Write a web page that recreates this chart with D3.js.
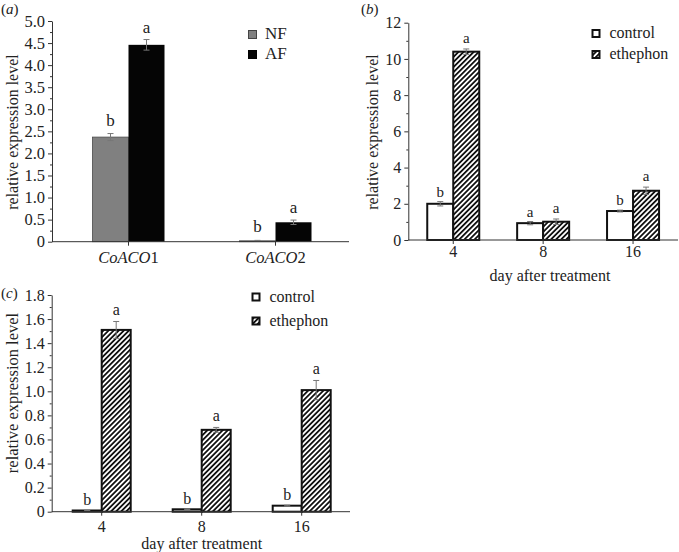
<!DOCTYPE html>
<html><head><meta charset="utf-8">
<script src="https://cdn.jsdelivr.net/npm/d3@7"></script>
<style>
html,body{margin:0;padding:0;background:#fff;}
svg text{font-family:"Liberation Serif",serif;}
</style></head>
<body>
<script>
// ---------- data ----------
const catsA = ["CoACO1", "CoACO2"];
const nfVals = [2.37, 0.02];
const nfErr = [0.08, 0.01];
const afVals = [4.46, 0.44];
const afErr = [0.12, 0.05];
const nfLetters = ["b", "b"];
const afLetters = ["a", "a"];

const daysB = ["4", "8", "16"];
const ctrlB = [2.0, 0.93, 1.6];
const ctrlBErr = [0.12, 0.09, 0.05];
const ethB = [10.4, 1.01, 2.72];
const ethBErr = [0.15, 0.15, 0.2];
const ctrlBLetters = ["b", "a", "b"];
const ethBLetters = ["a", "a", "a"];

const daysC = ["4", "8", "16"];
const ctrlC = [0.01, 0.02, 0.05];
const ctrlCErr = [0.002, 0.003, 0.004];
const ethC = [1.51, 0.68, 1.01];
const ethCErr = [0.07, 0.02, 0.08];
const ctrlCLetters = ["b", "b", "b"];
const ethCLetters = ["a", "a", "a"];

const ticksA = [0, 0.5, 1, 1.5, 2, 2.5, 3, 3.5, 4, 4.5, 5];
const ticksB = [0, 2, 4, 6, 8, 10, 12];
const ticksC = [0, 0.2, 0.4, 0.6, 0.8, 1.0, 1.2, 1.4, 1.6, 1.8];

// ---------- drawing ----------
const FONT = "Liberation Serif";
const W = 679, H = 552;
const svg = d3.select("body").append("svg").attr("width", W).attr("height", H)
  .attr("font-family", FONT);
const defs = svg.append("defs");
const pat = defs.append("pattern").attr("id", "hatch")
  .attr("patternUnits", "userSpaceOnUse").attr("width", 3.6).attr("height", 3.6)
  .attr("patternTransform", "rotate(45)");
pat.append("rect").attr("width", 3.6).attr("height", 3.6).attr("fill", "#fff");
pat.append("rect").attr("width", 1.8).attr("height", 3.6).attr("fill", "#111");

const fmt1 = d => d === 0 ? "0" : d3.format(".1f")(d);
const TXT = "#222";

function txt(g) {
  return g.append("text").attr("font-family", FONT).attr("fill", TXT);
}

function yAxis(g, y, x0, ticks, minor, format, fs) {
  const ax = g.append("g").attr("transform", `translate(${x0},0)`)
    .call(d3.axisLeft(y).tickValues(ticks).tickFormat(format).tickSize(4).tickSizeOuter(0).tickPadding(3));
  ax.attr("font-family", FONT);
  ax.selectAll("text").attr("font-size", fs).attr("fill", TXT).attr("font-family", FONT);
  ax.selectAll("line").attr("stroke", "#333");
  ax.select(".domain").attr("stroke", "#333");
  const mn = g.append("g").attr("transform", `translate(${x0},0)`)
    .call(d3.axisLeft(y).tickValues(minor).tickFormat("").tickSize(2).tickSizeOuter(0));
  mn.select(".domain").remove();
  mn.selectAll("line").attr("stroke", "#333");
}

function xAxis(g, x, y0, xStart, xEnd, pad, fs) {
  const ax = g.append("g").attr("transform", `translate(0,${y0})`)
    .call(d3.axisBottom(x).tickSize(4).tickSizeOuter(0).tickPadding(pad));
  ax.attr("font-family", FONT);
  ax.select(".domain").attr("d", `M${xStart},0H${xEnd}`).attr("stroke", "#333");
  ax.selectAll("line").attr("stroke", "#333");
  ax.selectAll("text").attr("font-size", fs).attr("fill", TXT).attr("font-family", FONT);
  return ax;
}

function errBar(g, cx, y, v, e) {
  const t = y(v + e), b = y(Math.max(0, v - e));
  g.append("path").attr("d", `M${cx},${t}V${b}M${cx - 3},${t}H${cx + 3}M${cx - 3},${b}H${cx + 3}`)
    .attr("stroke", "#777").attr("stroke-width", 1).attr("fill", "none");
}

function letter(g, cx, yy, s, fs) {
  txt(g).attr("x", cx).attr("y", yy).attr("text-anchor", "middle")
    .attr("font-size", fs).text(s);
}

function ylabel(g, x, y, fs) {
  txt(g).attr("transform", `translate(${x},${y}) rotate(-90)`)
    .attr("text-anchor", "middle").attr("font-size", fs)
    .text("relative expression level");
}

function panelLabel(g, x, y, l) {
  const t = txt(g).attr("x", x).attr("y", y).attr("font-size", 15);
  t.append("tspan").text("(");
  t.append("tspan").attr("font-style", "italic").text(l);
  t.append("tspan").text(")");
}

// ===== Panel (a) =====
{
  const g = svg.append("g");
  const y = d3.scaleLinear().domain([0, 5]).range([241.7, 21]);
  const x = d3.scaleBand().domain(catsA).range([55, 349]);
  const bw = 36;
  catsA.forEach((c, i) => {
    const cx = x(c) + x.bandwidth() / 2;
    g.append("rect").attr("x", cx - bw).attr("y", y(nfVals[i])).attr("width", bw)
      .attr("height", y(0) - y(nfVals[i])).attr("fill", "#808080").attr("stroke", "#4a4a4a").attr("stroke-width", 0.8);
    g.append("rect").attr("x", cx).attr("y", y(afVals[i])).attr("width", bw)
      .attr("height", y(0) - y(afVals[i])).attr("fill", "#050505");
    errBar(g, cx - bw / 2, y, nfVals[i], nfErr[i]);
    errBar(g, cx + bw / 2, y, afVals[i], afErr[i]);
    letter(g, cx - bw / 2, y(nfVals[i] + nfErr[i]) - 8, nfLetters[i], 17);
    letter(g, cx + bw / 2, y(afVals[i] + afErr[i]) - 7, afLetters[i], 17);
  });
  yAxis(g, y, 52, ticksA, d3.range(0.25, 5, 0.5), fmt1, 16.5);
  const ax = xAxis(g, x, 241.7, 52, 349, 6, 16.5);
  ax.selectAll(".tick text").text(null).each(function (d) {
    const t = d3.select(this);
    t.append("tspan").attr("font-style", "italic").text(d.slice(0, 5));
    t.append("tspan").text(d.slice(5));
  });
  ylabel(g, 18, 132, 16);
  panelLabel(g, 1, 14, "a");
  // legend
  const lg = g.append("g");
  lg.append("rect").attr("x", 248.5).attr("y", 30.5).attr("width", 8).attr("height", 8)
    .attr("fill", "#808080").attr("stroke", "#444");
  txt(lg).attr("x", 265).attr("y", 38.5).attr("font-size", 17).text("NF");
  lg.append("rect").attr("x", 248.5).attr("y", 50.5).attr("width", 8).attr("height", 8)
    .attr("fill", "#050505").attr("stroke", "#000");
  txt(lg).attr("x", 265).attr("y", 58.5).attr("font-size", 17).text("AF");
}

function hatchPanel(g, x, y, cats, cv, ce, ev, ee, cl, el, bw, gapC, gapE, fs) {
  cats.forEach((c, i) => {
    const cx = x(c) + x.bandwidth() / 2;
    g.append("rect").attr("x", cx - bw).attr("y", y(cv[i])).attr("width", bw)
      .attr("height", y(0) - y(cv[i])).attr("fill", "#fff").attr("stroke", "#111").attr("stroke-width", 2);
    g.append("rect").attr("x", cx).attr("y", y(ev[i])).attr("width", bw)
      .attr("height", y(0) - y(ev[i])).attr("fill", "url(#hatch)").attr("stroke", "#111").attr("stroke-width", 2);
    errBar(g, cx - bw / 2, y, cv[i], ce[i]);
    errBar(g, cx + bw / 2, y, ev[i], ee[i]);
    letter(g, cx - bw / 2, y(cv[i] + ce[i]) - gapC, cl[i], fs);
    letter(g, cx + bw / 2, y(ev[i] + ee[i]) - gapE, el[i], fs);
  });
}

function hatchLegend(g, x, y1, y2, fs) {
  g.append("rect").attr("x", x).attr("y", y1).attr("width", 7).attr("height", 7)
    .attr("fill", "#fff").attr("stroke", "#111").attr("stroke-width", 2);
  txt(g).attr("x", x + 17).attr("y", y1 + 8).attr("font-size", fs).text("control");
  g.append("rect").attr("x", x).attr("y", y2).attr("width", 7).attr("height", 7)
    .attr("fill", "url(#hatch)").attr("stroke", "#111").attr("stroke-width", 2);
  txt(g).attr("x", x + 17).attr("y", y2 + 8).attr("font-size", fs).text("ethephon");
}

// ===== Panel (b) =====
{
  const g = svg.append("g");
  const y = d3.scaleLinear().domain([0, 12]).range([240, 22.7]);
  const x = d3.scaleBand().domain(daysB).range([408.3, 678]);
  hatchPanel(g, x, y, daysB, ctrlB, ctrlBErr, ethB, ethBErr, ctrlBLetters, ethBLetters, 26, 5, 6, 15);
  yAxis(g, y, 408.3, ticksB, d3.range(1, 12, 2), d3.format("d"), 16);
  xAxis(g, x, 240, 408.3, 678, 2, 16);
  txt(g).attr("x", 550).attr("y", 281).attr("text-anchor", "middle")
    .attr("font-size", 16).text("day after treatment");
  ylabel(g, 378, 132, 16);
  panelLabel(g, 361, 14, "b");
  hatchLegend(g, 592.5, 30, 51, 16);
}

// ===== Panel (c) =====
{
  const g = svg.append("g");
  const y = d3.scaleLinear().domain([0, 1.8]).range([511.7, 295]);
  const x = d3.scaleBand().domain(daysC).range([51.7, 351.7]);
  hatchPanel(g, x, y, daysC, ctrlC, ctrlCErr, ethC, ethCErr, ctrlCLetters, ethCLetters, 29, 5, 6, 16);
  yAxis(g, y, 51.7, ticksC, d3.range(0.1, 1.8, 0.2), fmt1, 16);
  xAxis(g, x, 511.7, 51.7, 350, 5, 16);
  txt(g).attr("x", 201.7).attr("y", 549).attr("text-anchor", "middle")
    .attr("font-size", 16).text("day after treatment");
  ylabel(g, 18, 393, 16.5);
  panelLabel(g, 1, 298, "c");
  hatchLegend(g, 252.5, 293.5, 317.5, 16);
}
</script>
</body></html>
